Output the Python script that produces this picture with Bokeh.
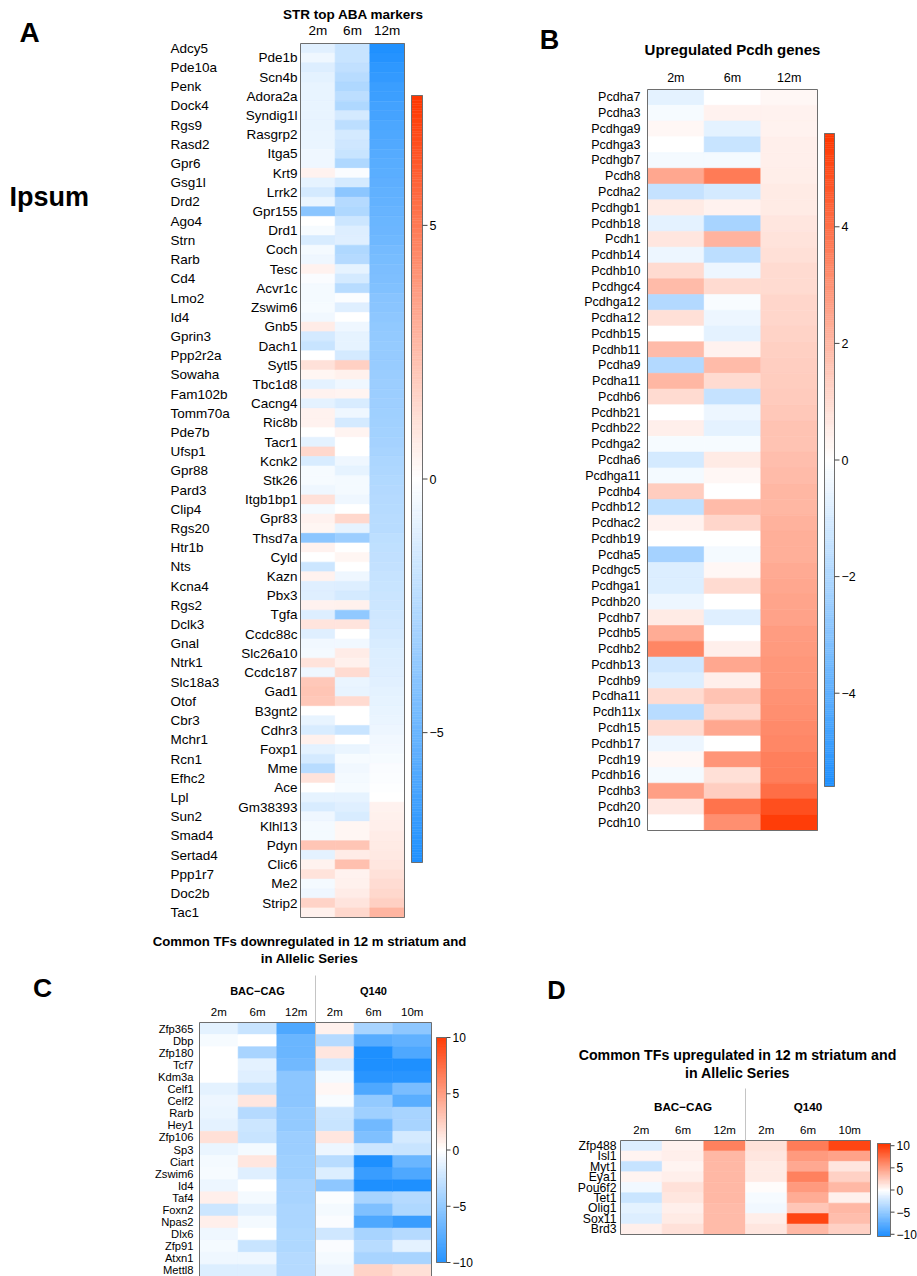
import numpy as np
from bokeh.plotting import figure
from bokeh.models import (ColumnDataSource, Range1d, FactorRange, CategoricalScale,
                          LinearScale, LinearColorMapper, CoordinateMapping)
from bokeh.transform import transform
from bokeh.core.properties import value
from bokeh.embed import file_html
from bokeh.resources import INLINE

# ---------------------------------------------------------------- data
months3 = ["2m", "6m", "12m"]

# Panel A: rows alternate between the outer gene column and the inner one
a_outer_genes = ["Adcy5", "Pde10a", "Penk", "Dock4", "Rgs9", "Rasd2", "Gpr6", "Gsg1l", "Drd2",
                 "Ago4", "Strn", "Rarb", "Cd4", "Lmo2", "Id4", "Gprin3", "Ppp2r2a", "Sowaha",
                 "Fam102b", "Tomm70a", "Pde7b", "Ufsp1", "Gpr88", "Pard3", "Clip4", "Rgs20",
                 "Htr1b", "Nts", "Kcna4", "Rgs2", "Dclk3", "Gnal", "Ntrk1", "Slc18a3", "Otof",
                 "Cbr3", "Mchr1", "Rcn1", "Efhc2", "Lpl", "Sun2", "Smad4", "Sertad4", "Ppp1r7",
                 "Doc2b", "Tac1"]
a_inner_genes = ["Pde1b", "Scn4b", "Adora2a", "Syndig1l", "Rasgrp2", "Itga5", "Krt9", "Lrrk2",
                 "Gpr155", "Drd1", "Coch", "Tesc", "Acvr1c", "Zswim6", "Gnb5", "Dach1", "Sytl5",
                 "Tbc1d8", "Cacng4", "Ric8b", "Tacr1", "Kcnk2", "Stk26", "Itgb1bp1", "Gpr83",
                 "Thsd7a", "Cyld", "Kazn", "Pbx3", "Tgfa", "Ccdc88c", "Slc26a10", "Ccdc187",
                 "Gad1", "B3gnt2", "Cdhr3", "Foxp1", "Mme", "Ace", "Gm38393", "Klhl13", "Pdyn",
                 "Clic6", "Me2", "Strip2"]
a_2m = [-1.0, -0.55, -1.15, -0.9, -0.75, -0.75, -0.75, -0.75, -0.75, -0.7,
        -0.7, -0.55, -0.55, 0.5, -0.85, -1.45, -0.7, -3.9, 0.0, -0.3,
        -1.3, -0.35, -0.55, 0.5, -0.15, -0.35, -0.35, -0.3, -0.5, 0.7,
        -1.45, -1.85, 0.0, 1.15, 0.35, -0.9, 0.45, -0.9, 0.5, 0.45,
        0.0, -0.9, 1.5, -1.3, -0.3, -0.3, -0.55, 1.15, -0.35, 0.5,
        0.35, -3.85, 0.45, 0.0, -1.7, 0.5, -1.05, -1.05, 0.45, -1.15,
        1.0, -1.05, -0.5, -0.35, 1.05, -0.55, 2.1, 2.2, 2.1, 0.0,
        -0.75, -1.3, 0.55, -0.9, -1.45, -2.4, 1.05, 0.0, -0.85, -1.3,
        -0.55, -0.35, -0.35, 2.2, -0.9, 0.45, 1.05, -0.35, -0.55, 1.65,
        0.55]
a_6m = [-1.85, -1.85, -2.1, -2.4, -2.65, -2.25, -2.65, -1.45, -2.25, -1.45,
        -1.6, -1.85, -2.65, -0.2, -1.45, -3.85, -2.5, -2.65, -1.7, -1.15,
        -1.05, -2.65, -2.5, -0.85, -1.45, -2.4, -0.1, -1.05, 0.0, -0.55,
        -0.85, -0.85, -1.45, 1.75, 0.55, -0.55, 0.4, -1.3, -0.55, -1.45,
        0.4, 0.0, 0.0, -0.55, -0.85, -0.35, -0.35, -0.55, 0.0, 1.5,
        -0.85, -3.3, 0.0, 0.35, 0.0, -0.55, -1.15, -1.45, 0.55, -3.7,
        1.0, 0.0, -0.5, 0.7, 0.55, 1.35, -0.7, -0.75, 1.35, 0.0,
        0.0, -1.85, 0.0, -0.7, -0.3, -0.5, -0.35, -0.3, -0.85, -1.05,
        -1.3, 0.35, 0.35, 2.2, 0.7, 2.4, 0.45, 0.55, 0.7, 1.0,
        1.5]
a_12m = [-7.5, -7.3, -7.0, -6.8, -6.6, -6.5, -6.3, -6.2, -6.0, -5.9,
         -5.8, -5.7, -5.6, -5.5, -5.4, -5.3, -5.2, -5.1, -5.0, -4.9,
         -4.8, -4.6, -4.5, -4.4, -4.3, -4.2, -4.0, -3.9, -3.8, -3.7,
         -3.6, -3.55, -3.5, -3.45, -3.4, -3.35, -3.3, -3.25, -3.2, -3.15,
         -3.1, -3.0, -2.9, -2.8, -2.7, -2.6, -2.55, -2.5, -2.45, -2.4,
         -2.35, -2.2, -2.15, -2.05, -2.0, -1.9, -1.85, -1.8, -1.7, -1.6,
         -1.55, -1.4, -1.3, -1.2, -1.15, -1.05, -1.0, -0.9, -0.85, -0.75,
         -0.7, -0.6, -0.5, -0.4, -0.3, -0.2, -0.1, -0.05, 0.0, 0.5,
         0.55, 0.6, 0.7, 0.75, 0.85, 0.95, 1.1, 1.3, 1.5, 1.75,
         2.8]

# Panel B: upregulated Pcdh genes
b_genes = ["Pcdha7", "Pcdha3", "Pcdhga9", "Pcdhga3", "Pcdhgb7", "Pcdh8", "Pcdha2", "Pcdhgb1",
           "Pcdhb18", "Pcdh1", "Pcdhb14", "Pcdhb10", "Pcdhgc4", "Pcdhga12", "Pcdha12", "Pcdhb15",
           "Pcdhb11", "Pcdha9", "Pcdha11", "Pcdhb6", "Pcdhb21", "Pcdhb22", "Pcdhga2", "Pcdha6",
           "Pcdhga11", "Pcdhb4", "Pcdhb12", "Pcdhac2", "Pcdhb19", "Pcdha5", "Pcdhgc5", "Pcdhga1",
           "Pcdhb20", "Pcdhb7", "Pcdhb5", "Pcdhb2", "Pcdhb13", "Pcdhb9", "Pcdha11", "Pcdh11x",
           "Pcdh15", "Pcdhb17", "Pcdh19", "Pcdhb16", "Pcdhb3", "Pcdh20", "Pcdh10"]
b_2m = [-0.67, -0.22, 0.2, 0.0, -0.27, 2.44, -1.47, 0.59, -0.67, 0.72,
        -0.42, 0.99, 1.87, -1.87, 0.86, 0.0, 1.87, -1.87, 2.0, 0.99,
        0.0, 0.42, -0.22, -1.07, -0.27, 1.4, -1.57, 0.37, 0.0, -2.26,
        -0.87, -0.87, -0.42, 0.55, 2.31, 3.36, -1.17, -0.87, 0.99, -1.77,
        0.99, -0.42, 0.24, -0.27, 2.7, 0.64, 0.0]
b_6m = [0.0, 0.37, -0.67, -1.37, -0.27, 3.67, -1.07, 0.33, -2.17, 2.09,
        -1.67, -0.42, 0.99, -0.17, -0.42, -0.67, 0.37, 1.87, 0.99, -1.47,
        -0.42, -0.67, -0.22, 0.59, 0.24, 0.0, 1.91, 1.12, 0.0, -0.27,
        0.2, 0.99, 0.0, -0.77, 0.0, 0.42, 2.44, 0.42, 1.69, 1.12,
        2.44, 0.0, 2.96, 0.86, 1.34, 3.93, 3.14]
b_12m = [0.24, 0.33, 0.37, 0.42, 0.42, 0.5, 0.55, 0.59, 0.72, 0.81,
         0.86, 0.99, 1.03, 1.12, 1.16, 1.21, 1.3, 1.34, 1.41, 1.45,
         1.54, 1.65, 1.69, 1.78, 1.91, 2.0, 2.04, 2.17, 2.22, 2.26,
         2.35, 2.44, 2.53, 2.61, 2.75, 2.79, 2.88, 2.92, 3.01, 3.1,
         3.23, 3.32, 3.54, 3.62, 4.06, 4.9, 5.42]

# Panels C and D: transcription factors across two HD models
tf_groups = ["BAC\u2212CAG", "Q140"]
tf_months = [["2m", "6m", "12m"], ["2m", "6m", "10m"]]

c_genes = ["Zfp365", "Dbp", "Zfp180", "Tcf7", "Kdm3a", "Celf1", "Celf2", "Rarb", "Hey1",
           "Zfp106", "Sp3", "Ciart", "Zswim6", "Id4", "Taf4", "Foxn2", "Npas2", "Dlx6",
           "Zfp91", "Atxn1", "Mettl8"]
c_bac_2m = [-1.2, -0.4, 0.0, 0.0, 0.0, -1.2, -0.76, -0.93, -1.2, 1.53, -0.93, -0.49, -0.4,
            -0.76, 0.82, -2.27, 0.82, -0.67, -0.49, -0.67, -1.56]
c_bac_6m = [-2.44, 0.0, -3.87, -1.2, -1.38, -2.44, 1.29, -3.33, -2.27, -2.44, -0.49, 1.29,
            -1.38, 0.0, -0.49, -1.2, -0.49, 0.0, -2.44, -0.67, -1.56]
c_bac_12m = [-7.87, -6.62, -6.62, -6.27, -5.11, -5.11, -5.11, -4.76, -4.76, -4.4, -4.4, -4.22,
             -4.22, -3.87, -3.87, -3.69, -3.69, -3.51, -3.51, -3.33, -3.33]
c_q140_2m = [0.67, -3.33, 1.29, -1.91, -0.49, 0.43, -0.31, -2.27, -2.44, 1.29, -0.76, -3.16,
             -1.56, -5.02, -0.13, -0.49, -0.22, -2.09, -0.22, -0.49, -0.76]
c_q140_6m = [-3.87, -7.42, -10.0, -10.0, -9.47, -7.87, -4.76, -4.22, -6.27, -5.64, -2.27, -10.0,
             -8.76, -10.0, -3.87, -5.64, -7.87, -3.87, -3.16, -3.87, 2.16]
c_q140_10m = [-5.02, -6.98, -7.87, -10.0, -9.47, -5.91, -7.33, -3.87, -3.87, -1.91, -2.44,
              -6.62, -7.87, -10.0, -3.33, -3.51, -8.76, -3.33, -1.2, -3.87, 1.53]

d_genes = ["Zfp488", "Isl1", "Myt1", "Eya1", "Pou6f2", "Tet1", "Olig1", "Sox11", "Brd3"]
d_bac_2m = [-1.56, 0.59, -2.62, 0.59, -0.67, -2.44, -1.2, -1.56, 0.82]
d_bac_6m = [0.67, 0.82, 0.59, 0.82, 1.53, 1.29, 0.82, 1.06, 1.53]
d_bac_12m = [6.55, 3.73, 3.73, 3.73, 3.73, 3.73, 3.57, 3.57, 3.57]
d_q140_2m = [1.53, 1.29, 1.06, 1.06, 0.2, -0.4, -0.67, 0.9, 1.29]
d_q140_6m = [6.86, 5.29, 4.51, 6.55, 5.29, 4.35, 2.94, 9.69, 3.73]
d_q140_10m = [9.69, 4.82, 1.29, 2.39, 3.73, 0.75, 3.73, 3.41, 2.39]

# colour-key limits and ticks
a_limit, a_ticks = 7.56, [-5, 0, 5]
b_limit, b_ticks = 5.6, [-4, -2, 0, 2, 4]
c_limit, c_ticks = 10.0, [-10, -5, 0, 5, 10]
d_limit, d_ticks = 10.5, [-10, -5, 0, 5, 10]

# ---------------------------------------------------------------- styling
FONT = value("Liberation Sans")
MINUS = "\u2212"
W, H = 917, 1276
EDGE = "#6e6e6e"
SEP = "#c4c4c4"


def ramp(lo, mid, hi, n=255):
    out = []
    for i in range(n):
        t = i / (n - 1)
        a, b, u = (lo, mid, t / 0.5) if t < 0.5 else (mid, hi, (t - 0.5) / 0.5)
        out.append("#%02x%02x%02x" % tuple(round(a[k] + (b[k] - a[k]) * u) for k in range(3)))
    return out


PALETTE = ramp((30, 144, 255), (255, 255, 255), (255, 55, 0))

p = figure(width=W, height=H, x_range=Range1d(0, W), y_range=Range1d(H, 0),
           x_axis_location=None, y_axis_location=None, toolbar_location=None,
           output_backend="svg", min_border=0, outline_line_color=None,
           background_fill_color="white", border_fill_color="white")
p.xgrid.visible = False
p.ygrid.visible = False


class Panel:
    """Glyph calls on the page figure, rendered through a local coordinate mapping."""

    def __init__(self, x_source, y_source, x_target, y_target):
        xs = CategoricalScale() if isinstance(x_source, FactorRange) else LinearScale()
        ys = CategoricalScale() if isinstance(y_source, FactorRange) else LinearScale()
        self.cm = CoordinateMapping(x_source=x_source, y_source=y_source,
                                    x_scale=xs, y_scale=ys,
                                    x_target=x_target, y_target=y_target)

    def __getattr__(self, name):
        method = getattr(p, name)

        def call(*args, **kw):
            r = method(*args, **kw)
            r.coordinates = self.cm
            return r
        return call


def put_text(x, y, s, size, bold=False, align="center"):
    p.text(x=[x], y=[y], text=[s], text_font=FONT, text_font_size=size,
           text_font_style="bold" if bold else "normal", text_align=align,
           text_baseline="middle", text_color="black")


def heatmap(col_keys, row_keys, col_values, limit, box):
    x0, x1, y0, y1 = box
    xf = FactorRange(factors=list(col_keys))
    yf = FactorRange(factors=list(row_keys))
    cells = Panel(xf, yf, Range1d(x0, x1), Range1d(y0, y1))
    mapper = LinearColorMapper(palette=PALETTE, low=-limit, high=limit)
    xs, ys, vs = [], [], []
    for c, vals in zip(col_keys, col_values):
        xs.extend([c] * len(row_keys))
        ys.extend(row_keys)
        vs.extend(vals)
    src = ColumnDataSource(dict(col=xs, row=ys, val=vs))
    cells.rect(x="col", y="row", width=1, height=1, source=src,
               fill_color=transform("val", mapper), line_color=transform("val", mapper),
               line_width=0.6)
    cells.quad(left=0, right=len(col_keys), top=0, bottom=len(row_keys),
               fill_color=None, line_color=EDGE, line_width=1)
    # column headers share the heatmap's column scale, vertical in page pixels
    head = Panel(xf, Range1d(0, H), Range1d(x0, x1), Range1d(0, H))
    # row labels share the heatmap's row scale, horizontal in page pixels
    side = Panel(Range1d(0, W), yf, Range1d(0, W), Range1d(y0, y1))
    return head, side


def colorbar(limit, ticks, box, size, tick_len=5, gap=2):
    x0, x1, ytop, ybot = box
    w = x1 - x0
    cb = Panel(Range1d(0, w), Range1d(-limit, limit), Range1d(x0, x1), Range1d(ybot, ytop))
    mapper = LinearColorMapper(palette=PALETTE, low=-limit, high=limit)
    edges = np.linspace(-limit, limit, 301)
    src = ColumnDataSource(dict(lo=edges[:-1], hi=edges[1:], mid=(edges[:-1] + edges[1:]) / 2))
    cb.quad(left=0, right=w, bottom="lo", top="hi", source=src,
            fill_color=transform("mid", mapper), line_color=transform("mid", mapper),
            line_width=0.5)
    cb.quad(left=0, right=w, bottom=-limit, top=limit, fill_color=None,
            line_color=EDGE, line_width=1)
    labels = [(MINUS + str(abs(t))) if t < 0 else str(t) for t in ticks]
    cb.segment(x0=[w] * len(ticks), x1=[w + tick_len] * len(ticks), y0=ticks, y1=ticks,
               line_color="#444444", line_width=1)
    cb.text(x=[w + tick_len + gap] * len(ticks), y=ticks, text=labels, text_font=FONT,
            text_font_size=size, text_align="left", text_baseline="middle",
            text_color="black")


def lab(sub, xs, ys, texts, size, align="center", bold=False):
    sub.text(x=xs, y=ys, text=texts, text_font=FONT, text_font_size=size,
             text_font_style="bold" if bold else "normal", text_align=align,
             text_baseline="middle", text_color="black")


# ---------------------------------------------------------------- panel A
a_rows = []
for k, g in enumerate(a_outer_genes):
    a_rows.append(g)
    if k < len(a_inner_genes):
        a_rows.append(a_inner_genes[k])

head, side = heatmap(months3, a_rows, [a_2m, a_6m, a_12m], a_limit, (300, 404, 43, 917))
lab(head, months3, [30] * 3, months3, "13.5px")
lab(side, [297] * len(a_inner_genes), a_inner_genes, a_inner_genes, "13.5px", align="right")
lab(side, [170] * len(a_outer_genes), a_outer_genes, a_outer_genes, "13.5px", align="left")
put_text(353, 14, "STR top ABA markers", "13.5px", bold=True)
put_text(29, 32, "A", "28px", bold=True)
put_text(9, 196, "Ipsum", "27px", bold=True, align="left")
colorbar(a_limit, a_ticks, (411, 422, 95, 862), "12.5px")

# ---------------------------------------------------------------- panel B
b_keys = [f"{g}|{i}" for i, g in enumerate(b_genes)]
head, side = heatmap(months3, b_keys, [b_2m, b_6m, b_12m], b_limit, (647, 817, 89, 830))
lab(head, months3, [77] * 3, months3, "12.5px")
lab(side, [640] * len(b_keys), b_keys, b_genes, "12.5px", align="right")
put_text(732, 49, "Upregulated Pcdh genes", "15px", bold=True)
put_text(549, 39, "B", "27px", bold=True)
colorbar(b_limit, b_ticks, (824, 834, 133, 786), "12.5px")

# ---------------------------------------------------------------- panels C and D
tf_keys = [f"{grp} {m}" for grp, ms in zip(tf_groups, tf_months) for m in ms]
tf_labels = [m for ms in tf_months for m in ms]
group_centres, group_edges, start = [], [], 0
for ms in tf_months:
    group_centres.append(start + len(ms) / 2)
    start += len(ms)
    group_edges.append(start)
split = group_edges[0]

head, side = heatmap(tf_keys, c_genes,
                     [c_bac_2m, c_bac_6m, c_bac_12m, c_q140_2m, c_q140_6m, c_q140_10m],
                     c_limit, (199, 431, 1022, 1276))
head.segment(x0=[split], x1=[split], y0=[975], y1=[1276], line_color=SEP, line_width=1)
lab(head, tf_keys, [1011] * len(tf_keys), tf_labels, "11.5px")
lab(head, group_centres, [990] * 2, tf_groups, "11px", bold=True)
lab(side, [193] * len(c_genes), c_genes, c_genes, "11.2px", align="right")
put_text(309, 941, "Common TFs downregulated in 12 m striatum and", "13.2px", bold=True)
put_text(309, 958, "in Allelic Series", "13.2px", bold=True)
put_text(42, 987, "C", "26.5px", bold=True)
colorbar(c_limit, c_ticks, (436, 446, 1037, 1262), "12px", tick_len=4)

head, side = heatmap(tf_keys, d_genes,
                     [d_bac_2m, d_bac_6m, d_bac_12m, d_q140_2m, d_q140_6m, d_q140_10m],
                     d_limit, (620, 870, 1140, 1234))
head.segment(x0=[split], x1=[split], y0=[1088], y1=[1140], line_color=SEP, line_width=1)
lab(head, tf_keys, [1129] * len(tf_keys), tf_labels, "11.5px")
lab(head, group_centres, [1106] * 2, tf_groups, "11.7px", bold=True)
lab(side, [616] * len(d_genes), d_genes, d_genes, "12.2px", align="right")
put_text(737, 1054, "Common TFs upregulated in 12 m striatum and", "14.2px", bold=True)
put_text(737, 1072, "in Allelic Series", "14.2px", bold=True)
put_text(556, 989, "D", "25.5px", bold=True)
colorbar(d_limit, d_ticks, (877, 890, 1143, 1236), "12px", tick_len=4)

open("out.html", "w").write(file_html(p, INLINE))
